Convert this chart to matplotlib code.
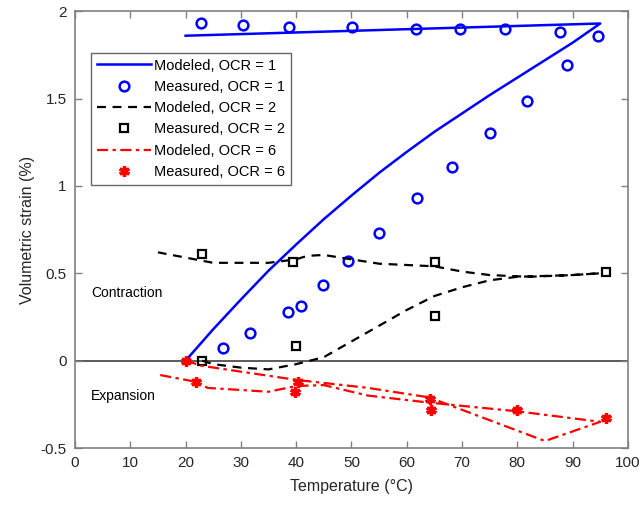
import numpy as np
import matplotlib.pyplot as plt

plt.rcParams['font.family'] = ['Liberation Sans', 'DejaVu Sans']

# modeled curves (heating then cooling), temperature in deg C, strain in %
t_mod1 = [20, 25, 30, 35, 40, 45, 50, 55, 60, 65, 70, 75, 80, 85, 90, 95, 20]
e_mod1 = [0, 0.18, 0.35, 0.515, 0.665, 0.81, 0.945, 1.075, 1.195, 1.31, 1.415, 1.52, 1.62, 1.72, 1.82, 1.93, 1.86]

t_mod2 = [23, 25, 30, 35, 40, 45, 50, 55, 60, 65, 70, 75, 80, 90, 95,
          90, 82, 75, 70, 65, 55, 50, 45, 42, 40, 35, 25, 20, 15]
e_mod2 = [0, -0.02, -0.04, -0.05, -0.02, 0.02, 0.11, 0.2, 0.29, 0.37, 0.42, 0.46, 0.48, 0.49, 0.5,
          0.49, 0.48, 0.49, 0.51, 0.54, 0.555, 0.58, 0.605, 0.6, 0.58, 0.56, 0.56, 0.59, 0.62]

t_mod6 = [20, 23, 40, 53, 64, 85, 95, 80, 64, 53, 45, 40, 35, 24, 21.7, 15]
e_mod6 = [0, -0.03, -0.11, -0.156, -0.21, -0.46, -0.35, -0.29, -0.24, -0.2, -0.14, -0.145, -0.178, -0.156, -0.12, -0.08]

# measured points
t_meas1 = [26.7, 31.7, 38.6, 40.8, 44.9, 49.3, 55.0, 61.8, 68.2, 75.0, 81.7, 89.0, 94.6,
           87.7, 77.8, 69.6, 61.7, 50.1, 38.7, 30.4, 22.8]
e_meas1 = [0.072, 0.161, 0.281, 0.313, 0.435, 0.57, 0.733, 0.933, 1.111, 1.305, 1.487, 1.69, 1.86,
           1.88, 1.90, 1.90, 1.90, 1.91, 1.91, 1.92, 1.93]

t_meas2 = [23, 40, 65.2, 96, 65.1, 39.4, 23]
e_meas2 = [0, 0.085, 0.255, 0.505, 0.565, 0.565, 0.61]

t_meas6 = [20, 21.8, 40.3, 39.8, 64.2, 64.4, 80, 96.1]
e_meas6 = [0, -0.121, -0.123, -0.18, -0.222, -0.285, -0.285, -0.327]

fig = plt.figure(figsize=(6.44, 5.12), dpi=100)
ax = fig.add_axes([0.1165, 0.125, 0.8585, 0.853])

ax.axhline(0, color='#404040', lw=1.2, zorder=1)

ax.plot(t_mod1, e_mod1, '-', color='#0000ff', lw=1.8, label='Modeled, OCR = 1')
ax.plot(t_meas1, e_meas1, 'o', color='#0000ff', mfc='none', mew=1.8, ms=7,
        label='Measured, OCR = 1')
ax.plot(t_mod2, e_mod2, '--', color='k', lw=1.6, dashes=(4, 3), label='Modeled, OCR = 2')
ax.plot(t_meas2, e_meas2, 's', color='k', mfc='none', mew=1.6, ms=6,
        label='Measured, OCR = 2')
ax.plot(t_mod6, e_mod6, '-.', color='#ff0000', lw=1.6, dashes=(5, 2, 1.5, 2), label='Modeled, OCR = 6')
ax.plot(t_meas6, e_meas6, linestyle='none', marker=(6, 2, 0), color='#ff0000', mew=2.4, ms=7.5,
        label='Measured, OCR = 6')

ax.text(2.9, 0.39, 'Contraction', fontsize=10, va='center', ha='left')
ax.text(2.9, -0.2, 'Expansion', fontsize=10, va='center', ha='left')

ax.set_xlim(0, 100)
ax.set_ylim(-0.5, 2)
ax.set_xticks(np.arange(0, 101, 10))
ax.set_yticks([-0.5, 0, 0.5, 1, 1.5, 2])
ax.set_yticklabels(['-0.5', '0', '0.5', '1', '1.5', '2'])
ax.tick_params(direction='in', top=True, right=True, length=5, width=1,
               color='#808080', labelsize=11, labelcolor='#262626', pad=6)
for s in ax.spines.values():
    s.set_color('#808080')
    s.set_linewidth(1.2)

ax.set_xlabel('Temperature (°C)', fontsize=11.5, color='#262626', labelpad=6)
ax.set_ylabel('Volumetric strain (%)', fontsize=11.5, color='#262626', labelpad=4)

leg = ax.legend(loc='upper left', bbox_to_anchor=(0.029, 0.905), fontsize=10.5,
                frameon=True, fancybox=False, handlelength=3.7, handletextpad=0.2,
                borderpad=0.4, labelspacing=0.5, borderaxespad=0)
leg.get_frame().set_edgecolor('#404040')
leg.get_frame().set_linewidth(1.0)

fig.savefig('out.png', dpi=100)
